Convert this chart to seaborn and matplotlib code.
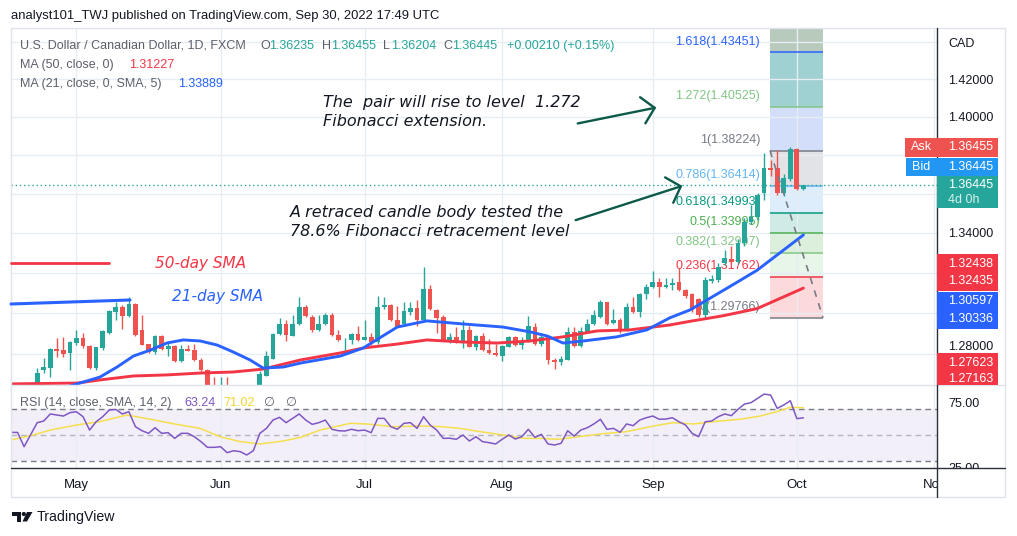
import numpy as np
import pandas as pd
import matplotlib
matplotlib.use("Agg")
import matplotlib.pyplot as plt
import seaborn as sns
from matplotlib.patches import Rectangle, Polygon, Ellipse, FancyArrowPatch
from matplotlib.lines import Line2D
from matplotlib.ticker import NullLocator

# ---------------- data (daily candles, bar index 0 = first visible bar) ----------------
opens = [1.2636, 1.2721, 1.2732, 1.2825, 1.2817, 1.2804, 1.2855, 1.2876, 1.2839, 1.2732,
         1.2828, 1.2901, 1.3007, 1.3031, 1.2987, 1.3044, 1.2917, 1.2847, 1.2809, 1.2888,
         1.2823, 1.2839, 1.2764, 1.2823, 1.2820, 1.2772, 1.2721, 1.2640, 1.2615, 1.2640,
         1.2605, 1.2565, 1.2615, 1.2585, 1.2640, 1.2695, 1.2777, 1.2898, 1.2946, 1.2888,
         1.2946, 1.3028, 1.2982, 1.2917, 1.2946, 1.2990, 1.2893, 1.2867, 1.2867, 1.2898,
         1.2868, 1.2881, 1.2860, 1.3028, 1.3039, 1.2966, 1.2946, 1.3007, 1.3023, 1.2966,
         1.3117, 1.3015, 1.2982, 1.2868, 1.2881, 1.2865, 1.2917, 1.2836, 1.2888, 1.2820,
         1.2804, 1.2791, 1.2836, 1.2881, 1.2841, 1.2860, 1.2930, 1.2849, 1.2881, 1.2772,
         1.2759, 1.2772, 1.2909, 1.2839, 1.2909, 1.2946, 1.2982, 1.3053, 1.2950, 1.2966,
         1.2920, 1.3028, 1.3007, 1.3094, 1.3127, 1.3155, 1.3127, 1.3138, 1.3153, 1.3113,
         1.3093, 1.3069, 1.2990, 1.3158, 1.3163, 1.3248, 1.3268, 1.3253, 1.3348, 1.3455,
         1.3480, 1.3603, 1.3732, 1.3732, 1.3603, 1.3675, 1.3831, 1.36235]
highs = [1.2732, 1.2780, 1.2831, 1.2876, 1.2881, 1.2865, 1.2917, 1.2901, 1.2844, 1.2836,
         1.2917, 1.3015, 1.3056, 1.3039, 1.3080, 1.3048, 1.2990, 1.2850, 1.2893, 1.2893,
         1.2860, 1.2844, 1.2844, 1.2844, 1.2849, 1.2780, 1.2727, 1.2687, 1.2687, 1.2687,
         1.2640, 1.2635, 1.2640, 1.2645, 1.2716, 1.2815, 1.2901, 1.2974, 1.2963, 1.2990,
         1.3077, 1.3039, 1.2990, 1.2990, 1.3002, 1.3002, 1.2917, 1.2878, 1.2901, 1.2936,
         1.2966, 1.2901, 1.3084, 1.3077, 1.3042, 1.3035, 1.3056, 1.3056, 1.3064, 1.3229,
         1.3138, 1.3018, 1.2990, 1.2901, 1.2933, 1.2966, 1.2936, 1.2893, 1.2901, 1.2872,
         1.2849, 1.2844, 1.2888, 1.2888, 1.2881, 1.2985, 1.2953, 1.2893, 1.2893, 1.2780,
         1.2788, 1.2933, 1.2930, 1.2930, 1.2969, 1.3012, 1.3064, 1.3056, 1.3018, 1.2974,
         1.3048, 1.3077, 1.3100, 1.3143, 1.3210, 1.3171, 1.3171, 1.3173, 1.3223, 1.3118,
         1.3098, 1.3075, 1.3178, 1.3188, 1.3248, 1.3313, 1.3333, 1.3368, 1.3475, 1.3541,
         1.3603, 1.3810, 1.3774, 1.3826, 1.3700, 1.3841, 1.3836, 1.36455]
lows = [1.2620, 1.2708, 1.2689, 1.2785, 1.2785, 1.2724, 1.2844, 1.2828, 1.2729, 1.2721,
        1.2820, 1.2898, 1.2963, 1.2922, 1.2982, 1.2888, 1.2841, 1.2806, 1.2801, 1.2820,
        1.2788, 1.2762, 1.2762, 1.2812, 1.2764, 1.2718, 1.2615, 1.2590, 1.2585, 1.2575,
        1.2545, 1.2545, 1.2555, 1.2570, 1.2625, 1.2692, 1.2774, 1.2893, 1.2865, 1.2885,
        1.2941, 1.2982, 1.2909, 1.2914, 1.2941, 1.2888, 1.2865, 1.2820, 1.2849, 1.2865,
        1.2866, 1.2844, 1.2849, 1.3018, 1.2960, 1.2930, 1.2941, 1.2990, 1.2936, 1.2964,
        1.3012, 1.2904, 1.2866, 1.2852, 1.2852, 1.2828, 1.2834, 1.2820, 1.2812, 1.2801,
        1.2791, 1.2767, 1.2834, 1.2839, 1.2823, 1.2858, 1.2844, 1.2839, 1.2753, 1.2727,
        1.2748, 1.2769, 1.2836, 1.2836, 1.2904, 1.2941, 1.2974, 1.2941, 1.2948, 1.2901,
        1.2914, 1.2998, 1.2979, 1.3067, 1.3122, 1.3077, 1.3122, 1.3113, 1.3108, 1.3074,
        1.3005, 1.2980, 1.29766, 1.3148, 1.3153, 1.3238, 1.3243, 1.3243, 1.3333, 1.3444,
        1.3465, 1.3567, 1.3690, 1.3593, 1.3590, 1.3665, 1.3618, 1.36204]
closes = [1.2708, 1.2735, 1.2825, 1.2812, 1.2799, 1.2857, 1.2876, 1.2839, 1.2732, 1.2833,
          1.2912, 1.3010, 1.3028, 1.2987, 1.3044, 1.2893, 1.2844, 1.2809, 1.2888, 1.2823,
          1.2839, 1.2764, 1.2823, 1.2815, 1.2769, 1.2721, 1.2630, 1.2618, 1.2640, 1.2605,
          1.2565, 1.2615, 1.2585, 1.2635, 1.2705, 1.2788, 1.2898, 1.2946, 1.2893, 1.2946,
          1.3028, 1.2987, 1.2917, 1.2946, 1.2990, 1.2893, 1.2868, 1.2870, 1.2898, 1.2868,
          1.2881, 1.2860, 1.3028, 1.3039, 1.2963, 1.2933, 1.3010, 1.3023, 1.2966, 1.3117,
          1.3018, 1.2977, 1.2868, 1.2881, 1.2860, 1.2917, 1.2836, 1.2888, 1.2817, 1.2804,
          1.2793, 1.2839, 1.2881, 1.2844, 1.2860, 1.2936, 1.2849, 1.2881, 1.2769, 1.2759,
          1.2777, 1.2906, 1.2839, 1.2912, 1.2946, 1.2990, 1.3053, 1.2946, 1.2966, 1.2920,
          1.3028, 1.3007, 1.3094, 1.3127, 1.3155, 1.3127, 1.3138, 1.3148, 1.3113, 1.3084,
          1.3015, 1.2990, 1.3163, 1.3168, 1.3228, 1.3273, 1.3253, 1.3348, 1.3455, 1.3480,
          1.3593, 1.3732, 1.3722, 1.3603, 1.3680, 1.3831, 1.36235, 1.36445]

# moving averages (bar index, price)
ma50_idx = [-3.8, 6.1, 9.6, 14.7, 19.8, 24.9, 29.9, 34.5, 40.2, 46.3, 49.8, 55.0, 59.5,
            65.0, 70.2, 75.3, 80.3, 85.5, 90.5, 96.6, 99.7, 104.7, 109.9, 117]
ma50_val = [1.2656, 1.2660, 1.2675, 1.2694, 1.2699, 1.2708, 1.2713, 1.2727, 1.2771, 1.2805,
            1.2829, 1.2848, 1.2868, 1.2858, 1.2853, 1.2863, 1.2883, 1.2912, 1.2917, 1.2941,
            1.2959, 1.2986, 1.3021, 1.31227]
ma21_idx = [-3.8, 6.1, 9.6, 12.2, 14.7, 17.3, 19.8, 22.3, 24.9, 27.5, 29.9, 32.5, 34.5,
            37.6, 40.2, 46.3, 49.8, 55.0, 59.5, 65.0, 71.1, 75.3, 77.9, 80.3, 83.4, 88.5,
            93.1, 96.6, 99.7, 105.8, 109.9, 117]
ma21_val = [1.2560, 1.2656, 1.2689, 1.2737, 1.2790, 1.2819, 1.2853, 1.2868, 1.2863, 1.2843,
            1.2810, 1.2771, 1.2732, 1.2737, 1.2756, 1.2790, 1.2829, 1.2931, 1.2961, 1.2946,
            1.2931, 1.2907, 1.2887, 1.2853, 1.2863, 1.2883, 1.2917, 1.2976, 1.3015, 1.3131,
            1.3211, 1.33889]

# RSI (14) and its SMA
rsi_idx = [-4, -3, -2, 0, 1, 2, 4, 5, 6, 7, 8, 9, 10, 11, 12, 13, 14, 15, 16, 17, 18, 19,
           20, 21, 22, 23, 24, 25, 26, 27, 28, 29, 30, 31, 32, 33, 34, 35, 36, 37, 38, 39,
           40, 41, 42, 43, 44, 45, 46, 47, 48, 49, 50, 51, 52, 53, 54, 55, 56, 57, 58, 59,
           60, 61, 62, 63, 64, 65, 66, 67, 68, 69, 70, 71, 72, 73, 74, 75, 76, 77, 78, 79,
           80, 81, 82, 83, 84, 85, 86, 87, 88, 89, 90, 91, 92, 93, 94, 95, 96, 97, 98, 99,
           100, 101, 102, 103, 104, 105, 106, 107, 108, 109, 110, 111, 112, 113, 114, 115,
           116, 117]
rsi_val = [52.0, 52.0, 41.0, 59.5, 60.8, 66.2, 64.6, 67.2, 67.9, 64.1, 53.8, 60.2, 64.1,
           69.2, 69.7, 66.2, 67.9, 56.4, 53.3, 51.3, 55.6, 51.3, 51.8, 47.4, 51.3, 51.3,
           48.7, 44.9, 40.5, 40.5, 41.0, 36.4, 37.9, 37.2, 34.6, 37.9, 51.3, 55.1, 61.5,
           63.6, 59.5, 62.8, 66.2, 61.5, 58.2, 59.5, 61.5, 54.4, 53.3, 53.1, 54.4, 53.3,
           53.8, 51.8, 62.8, 62.8, 56.4, 54.4, 59.0, 59.5, 55.1, 64.1, 57.7, 53.8, 47.4,
           47.5, 46.7, 50.0, 45.4, 48.7, 44.9, 44.1, 43.1, 46.7, 50.0, 46.9, 48.7, 54.4,
           48.2, 50.5, 43.1, 42.3, 43.6, 53.3, 49.2, 53.8, 55.6, 58.5, 62.1, 54.4, 55.1,
           52.1, 58.5, 57.2, 61.5, 63.3, 64.6, 62.1, 62.3, 63.3, 60.2, 57.7, 51.3, 48.7,
           60.2, 60.8, 64.1, 66.2, 64.9, 69.7, 73.8, 74.9, 78.2, 81.5, 80.8, 70.5, 73.1,
           76.4, 62.6, 63.24]
rsi_ma_idx = [-4, -0.6, 2, 6, 9.6, 13.7, 17.3, 21.3, 24.9, 27.9, 31, 34, 37.6, 40.2, 43.2,
              47.8, 50.3, 54.4, 58, 61.5, 64.6, 67.6, 71.2, 74.3, 76.8, 79.4, 81.9, 86, 90,
              94.1, 97.1, 100.2, 103.3, 107.3, 110.4, 112.9, 115, 117]
rsi_ma_val = [46.2, 50.0, 53.8, 57.7, 60.3, 65.4, 62.1, 58.2, 55.1, 48.7, 44.9, 43.1, 45.4,
              48.2, 53.8, 59.0, 58.5, 56.4, 56.9, 56.5, 55.1, 52.6, 50.0, 47.4, 47.4, 46.7,
              48.2, 50.8, 52.6, 56.9, 59.5, 58.5, 60.3, 62.1, 64.6, 67.9, 71.3, 71.02]

month_pos = [6, 28, 50, 71, 94, 116, 137]
month_labels = ["May", "Jun", "Jul", "Aug", "Sep", "Oct", "Nov"]

price_grid = [1.28, 1.30, 1.32, 1.34, 1.36, 1.38, 1.40, 1.42, 1.44]
# labels hidden behind price badges on the original are left blank
price_labels = ["", "", "", "1.34000", "", "", "1.40000", "1.42000", ""]

fib_ratio_labels = ["0", "0.236", "0.382", "0.5", "0.618", "0.786", "1", "1.272", "1.618"]
fib_prices = [1.29766, 1.31762, 1.32997, 1.33995, 1.34993, 1.36414, 1.38224, 1.40525, 1.43451]
fib_x_start, fib_x_end, fib_label_x = 111.9, 120.0, 110.4

# ---------------- styling ----------------
sns.set_theme(style="white")
plt.rcParams['font.family'] = ['Liberation Sans', 'DejaVu Sans']

TEAL = '#26a69a'
RED = '#ef5350'
GRID = '#e6edf3'
GRAY = '#5d606b'
DARK = '#131722'

fib_line_colors = ['#787b86', '#f23645', '#81c784', '#4caf50', '#089981', '#64b5f6',
                   '#787b86', '#81c784', '#2962ff']
fib_zone_colors = ['#fcdadc', '#e8f5e9', '#dcefdd', '#cfebe6', '#ddedfb', '#e2e3e6',
                   '#d3defb', '#9fd0d2', '#b7cabc']

W, H = 1017, 536


def fx(x):
    return x / W


def fy(y):
    return 1 - y / H


fig = plt.figure(figsize=(W / 100, H / 100), dpi=100)
fig.patch.set_facecolor('white')

ax = fig.add_axes([fx(11), fy(385), (937 - 11) / W, (385 - 28) / H])
axr = fig.add_axes([fx(11), fy(468), (937 - 11) / W, (468 - 385) / H])

# ---------------- price panel ----------------
df = pd.DataFrame({'i': np.arange(len(opens)), 'o': opens, 'h': highs, 'l': lows, 'c': closes})
up = df['c'] >= df['o']
cols = np.where(up, TEAL, RED)
ax.set_yscale('log')

# fibonacci zones
bounds = fib_prices + [1.60]
for k in range(len(fib_prices)):
    ax.fill_between([fib_x_start, fib_x_end], bounds[k], bounds[k + 1],
                    color=fib_zone_colors[k], lw=0, zorder=0.3)
ax.hlines(fib_prices, fib_x_start, fib_x_end, colors=fib_line_colors, lw=1.1, zorder=2)
for r, p, c in zip(fib_ratio_labels, fib_prices, fib_line_colors):
    ax.annotate(f"{r}({p:.5f})", xy=(fib_label_x, p), xytext=(0, 7.8),
                textcoords='offset points', ha='right', va='center',
                color=c, fontsize=9, zorder=2.5)

# current price dotted line
ax.axhline(closes[-1], color=TEAL, lw=1, ls=(0, (1, 2)), zorder=2)

# candles
body_lo = np.minimum(df['o'], df['c'])
body_hi = np.maximum(df['o'], df['c'])
ax.vlines(df['i'], df['l'], df['h'], colors=cols, lw=1, zorder=3)
ax.bar(df['i'], np.maximum(body_hi - body_lo, 0.00018), bottom=body_lo, width=0.72,
       color=cols, linewidth=0, zorder=4)

# moving averages
sns.lineplot(x=ma50_idx, y=ma50_val, ax=ax, color='#f23645', lw=2.1, zorder=5)
sns.lineplot(x=ma21_idx, y=ma21_val, ax=ax, color='#2962ff', lw=2.1, zorder=5)

# fib trend line (dashed)
ax.plot([fib_x_start, fib_x_end], [fib_prices[6], fib_prices[0]], color='#787b86',
        lw=1.2, ls=(0, (4, 4)), zorder=6)

ax.set_xlim(-4, 137.4)
ax.set_ylim(1.26507, 1.44783)
ax.set_yticks(price_grid)
ax.set_yticklabels(price_labels)
ax.yaxis.set_minor_locator(NullLocator())
ax.yaxis.tick_right()
ax.tick_params(axis='y', length=0, pad=8, labelsize=9, labelcolor=DARK)
ax.set_xticks(month_pos)
ax.tick_params(axis='x', length=0, labelbottom=False)
ax.grid(True, color=GRID, lw=1)
ax.set_axisbelow(True)
ax.set_xlabel('')
ax.set_ylabel('')
for s in ax.spines.values():
    s.set_visible(False)

# ---------------- RSI panel ----------------
axr.axhspan(30, 70, color='#7e57c2', alpha=0.09, lw=0, zorder=0.2)
for lvl, c in [(70, '#787b86'), (50, '#b2b5be'), (30, '#787b86')]:
    axr.axhline(lvl, color=c, lw=1, ls=(0, (4, 3)), zorder=1)
sns.lineplot(x=rsi_ma_idx, y=rsi_ma_val, ax=axr, color='#f5df4d', lw=1.1, zorder=3)
sns.lineplot(x=rsi_idx, y=rsi_val, ax=axr, color='#7e57c2', lw=1.1, zorder=4)
axr.set_xlim(-4, 137.4)
axr.set_ylim(24.6, 88.5)
axr.set_yticks([75, 25])
axr.set_yticklabels(["75.00", "25.00"])
axr.yaxis.tick_right()
axr.tick_params(axis='y', length=0, pad=8, labelsize=9, labelcolor=DARK)
axr.set_xticks(month_pos)
axr.set_xticklabels(month_labels)
axr.tick_params(axis='x', length=0, pad=8, labelsize=9.5, labelcolor=DARK)
axr.grid(True, axis='x', color=GRID, lw=1)
axr.set_axisbelow(True)
axr.set_xlabel('')
axr.set_ylabel('')
for s in axr.spines.values():
    s.set_visible(False)

# ---------------- figure decorations ----------------
def frect(x0, y0, x1, y1, **kw):
    r = Rectangle((fx(x0), fy(y1)), (x1 - x0) / W, (y1 - y0) / H,
                  transform=fig.transFigure, **kw)
    fig.add_artist(r)
    return r


def fline(xs, ys, **kw):
    fig.add_artist(Line2D([fx(x) for x in xs], [fy(y) for y in ys],
                          transform=fig.transFigure, **kw))


def ftext(x, y, s, **kw):
    kw.setdefault('va', 'center')
    kw.setdefault('fontsize', 9)
    return fig.text(fx(x), fy(y), s, **kw)


# cover overflow to the right of the time axis
frect(937.6, 468.6, 1004.5, 496.5, facecolor='white', edgecolor='none', zorder=1)
frect(11, 28, 1005, 497, fill=False, edgecolor='#e0e3eb', lw=1, zorder=2)
fline([11, 1005], [385, 385], color='#e0e3eb', lw=1, zorder=2)
fline([11, 1005], [468, 468], color='#2a2e39', lw=1, zorder=2)
fline([937, 937], [28, 497], color='#2a2e39', lw=1, zorder=2)

# header
ftext(11, 16, "analyst101_TWJ published on TradingView.com, Sep 30, 2022 17:49 UTC",
      fontsize=9.4, color=DARK)

# legend rows
chg = closes[-1] - closes[-2]
pct = chg / closes[-2] * 100
row1 = [(20, "U.S. Dollar / Canadian Dollar, 1D, FXCM", GRAY),
        (260, "O", GRAY), (269, f"{opens[-1]:.5f}", TEAL),
        (322, "H", GRAY), (331, f"{highs[-1]:.5f}", TEAL),
        (383, "L", GRAY), (391, f"{lows[-1]:.5f}", TEAL),
        (443, "C", GRAY), (452, f"{closes[-1]:.5f}", TEAL),
        (507, f"{chg:+.5f} ({pct:+.2f}%)", TEAL)]
for x, s, c in row1:
    ftext(x, 46, s, color=c)
ftext(20, 65, "MA (50, close, 0)", color=GRAY)
ftext(129, 65, f"{ma50_val[-1]:.5f}", color='#f23645')
ftext(20, 84, "MA (21, close, 0, SMA, 5)", color=GRAY)
ftext(178, 84, f"{ma21_val[-1]:.5f}", color='#2962ff')
ftext(20, 403, "RSI (14, close, SMA, 14, 2)", color=GRAY)
ftext(184, 403, f"{rsi_val[-1]:.2f}", color='#7e57c2')
ftext(223, 403, f"{rsi_ma_val[-1]:.2f}", color='#f2d530')
ftext(263, 403, "\u2205", color=GRAY)
ftext(285, 403, "\u2205", color=GRAY)

# SMA legend annotations
fline([11, 109], [263, 263], color='#f23645', lw=2)
fline([11, 130], [304, 300], color='#2962ff', lw=2.2)
ftext(155, 263, "50-day SMA", color='#f23645', fontsize=11, family='DejaVu Sans',
      style='italic')
ftext(172, 297, "21-day SMA", color='#2962ff', fontsize=11, family='DejaVu Sans',
      style='italic')

# commentary
for x, y, s in [(323, 103, "The  pair will rise to level  1.272"),
                (323, 122, "Fibonacci extension."),
                (290, 213, "A retraced candle body tested the"),
                (290, 232, "78.6% Fibonacci retracement level")]:
    ftext(x, y, s, color=DARK, fontsize=11.5, family='DejaVu Sans', style='italic')

ARROW = '#0e5a4a'
for (x0, y0), (x1, y1) in [((575, 124), (659, 107)), ((573, 221), (685, 185))]:
    fig.add_artist(FancyArrowPatch(
        (fx(x0), fy(y0)), (fx(x1), fy(y1)), transform=fig.transFigure,
        arrowstyle='->,head_length=0.55,head_width=0.6', mutation_scale=16,
        color=ARROW, lw=1.7, zorder=7))

# right price scale
ftext(948, 44, "CAD", color=DARK)
ftext(948, 347.5, "1.28000", color=DARK)
frect(905, 138, 998, 156.5, facecolor='#ef5350', edgecolor='none', zorder=2)
ftext(911, 147, "Ask", color='white', zorder=3)
ftext(948, 147, f"{highs[-1]:.5f}", color='white', zorder=3)
frect(906, 157.5, 998, 176, facecolor='#2196f3', edgecolor='none', zorder=2)
ftext(912, 167, "Bid", color='white', zorder=3)
ftext(948, 167, f"{closes[-1]:.5f}", color='white', zorder=3)
frect(937, 176, 998, 208, facecolor=TEAL, edgecolor='none', zorder=2)
ftext(948, 184.5, f"{closes[-1]:.5f}", color='white', zorder=3)
ftext(948, 200, "4d 0h", color='#d7f0ec', zorder=3)
frect(937, 254, 998, 291, facecolor='#f23645', edgecolor='none', zorder=2)
ftext(948, 263.5, "1.32438", color='white', zorder=3)
ftext(948, 281.5, "1.32435", color='white', zorder=3)
frect(937, 292, 998, 329, facecolor='#2962ff', edgecolor='none', zorder=2)
ftext(948, 301.5, "1.30597", color='white', zorder=3)
ftext(948, 319.5, "1.30336", color='white', zorder=3)
frect(937, 353, 998, 384.5, facecolor='#f23645', edgecolor='none', zorder=2)
ftext(948, 362.5, "1.27623", color='white', zorder=3)
ftext(948, 379.5, "1.27163", color='white', zorder=3)

# footer logo
frect(12, 512, 21, 515.5, facecolor=DARK, edgecolor='none')
frect(16.8, 512, 20.6, 521.5, facecolor=DARK, edgecolor='none')
fig.add_artist(Ellipse((fx(23.8), fy(514)), 4.2 / W, 4.2 / H, transform=fig.transFigure,
                       facecolor=DARK, edgecolor='none'))
fig.add_artist(Polygon([(fx(27), fy(512)), (fx(32.5), fy(512)), (fx(27), fy(521.5)),
                        (fx(22.5), fy(521.5))], closed=True, transform=fig.transFigure,
                       facecolor=DARK, edgecolor='none'))
ftext(37, 517, "TradingView", color=DARK, fontsize=10.2)

fig.savefig("out.png", dpi=100)
